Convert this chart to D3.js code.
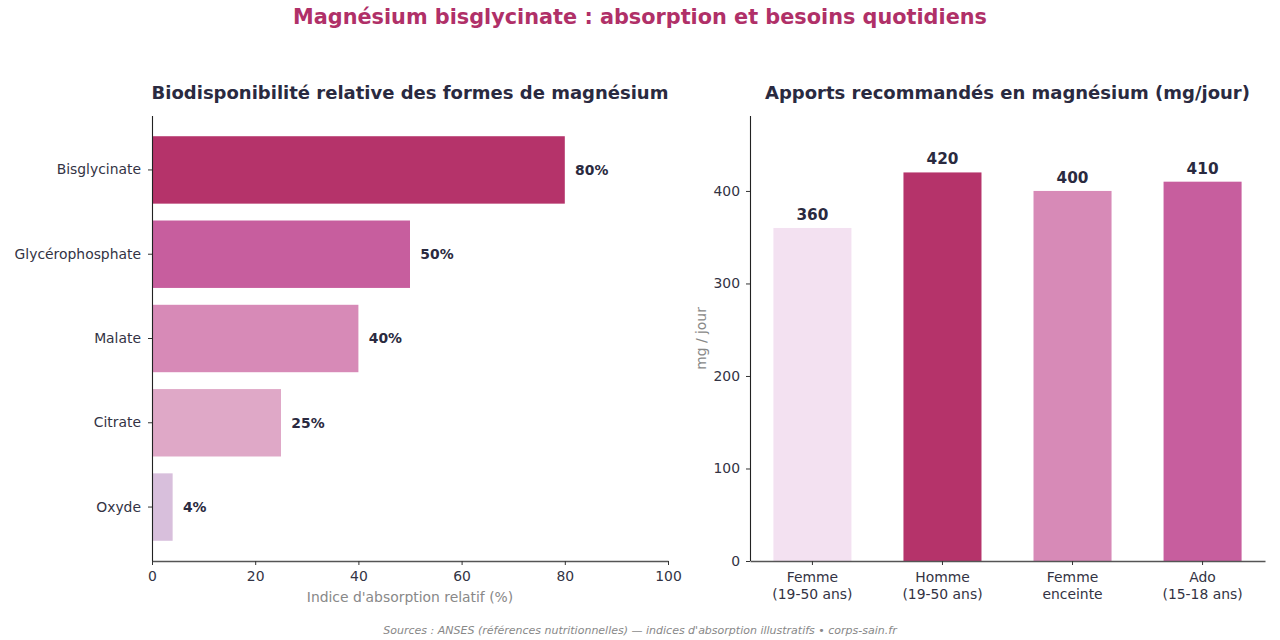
<!DOCTYPE html>
<html>
<head>
<meta charset="utf-8">
<script src="https://cdn.jsdelivr.net/npm/d3@7"></script>
<style>
  body { margin: 0; background: #fff; }
  svg, svg text { font-family: "DejaVu Sans", sans-serif; }
</style>
</head>
<body>
<div id="chart"></div>
<script>
var width  = 1280;
var height = 640;

// left panel data
var forms      = ["Bisglycinate", "Glycérophosphate", "Malate", "Citrate", "Oxyde"];
var absorption = [80, 50, 40, 25, 4];
var formColors = ["#b5336a", "#c75e9e", "#d78ab7", "#dfa8c7", "#d8bfdc"];
var absTicks   = [0, 20, 40, 60, 80, 100];

// right panel data
var groups      = ["Femme\n(19-50 ans)", "Homme\n(19-50 ans)", "Femme\nenceinte", "Ado\n(15-18 ans)"];
var apports     = [360, 420, 400, 410];
var groupColors = ["#f3e1f1", "#b5336a", "#d78ab7", "#c75e9e"];
var apportTicks = [0, 100, 200, 300, 400];

var dark = "#2a2a40";

var svg = d3.select("#chart").append("svg")
  .attr("width", width)
  .attr("height", height);

svg.append("text")
  .attr("x", 640).attr("y", 24)
  .attr("text-anchor", "middle")
  .style("font-size", "20.8px").style("font-weight", "bold")
  .style("fill", "#b03068")
  .text("Magnésium bisglycinate : absorption et besoins quotidiens");

function styleAxis(g, spineColor, spineWidth) {
  g.attr("font-family", null);
  g.select(".domain").attr("stroke", spineColor).attr("stroke-width", spineWidth);
  g.selectAll(".tick line").attr("stroke", "#333");
  g.selectAll(".tick text")
    .style("font-family", "'DejaVu Sans', sans-serif")
    .style("font-size", "13.9px").style("fill", "#333344");
}

// ---------- left panel: horizontal bars ----------
var L = {left: 152, right: 668, top: 116, bottom: 561};

var xAbs = d3.scaleLinear().domain([0, 100]).range([L.left, L.right]);
var yForm = d3.scaleBand().domain(forms).range([L.top, L.bottom])
  .paddingInner(0.2).paddingOuter(0.24);

svg.selectAll(".form-bar")
  .data(forms)
  .enter().append("rect")
  .attr("class", "form-bar")
  .attr("x", xAbs(0))
  .attr("y", function(d) { return yForm(d); })
  .attr("width", function(d, i) { return xAbs(absorption[i]) - xAbs(0); })
  .attr("height", yForm.bandwidth())
  .style("fill", function(d, i) { return formColors[i]; });

svg.selectAll(".form-val")
  .data(forms)
  .enter().append("text")
  .attr("class", "form-val")
  .attr("x", function(d, i) { return xAbs(absorption[i] + 2); })
  .attr("y", function(d) { return yForm(d) + yForm.bandwidth() / 2; })
  .attr("dy", "0.35em")
  .style("font-size", "13.9px").style("font-weight", "bold").style("fill", dark)
  .text(function(d, i) { return absorption[i] + "%"; });

var gxL = svg.append("g")
  .attr("transform", "translate(0," + L.bottom + ")")
  .call(d3.axisBottom(xAbs).tickValues(absTicks).tickSize(4).tickSizeOuter(0).tickPadding(6));
styleAxis(gxL, "#555", 1.6);

var gyL = svg.append("g")
  .attr("transform", "translate(" + L.left + ",0)")
  .call(d3.axisLeft(yForm).tickSize(4).tickSizeOuter(0).tickPadding(7));
gyL.select(".domain").attr("d", "M0.5," + L.top + "V" + L.bottom);
styleAxis(gyL, "#222", 1.1);

svg.append("text")
  .attr("x", (L.left + L.right) / 2).attr("y", 602)
  .attr("text-anchor", "middle")
  .style("font-size", "13.9px").style("fill", "#888")
  .text("Indice d'absorption relatif (%)");

svg.append("text")
  .attr("x", (L.left + L.right) / 2).attr("y", 99)
  .attr("text-anchor", "middle")
  .style("font-size", "18px").style("font-weight", "bold").style("fill", dark)
  .text("Biodisponibilité relative des formes de magnésium");

// ---------- right panel: vertical bars ----------
var R = {left: 750, right: 1265, top: 116, bottom: 561};

var xGrp = d3.scaleBand().domain(groups).range([R.left, R.right])
  .paddingInner(0.4).paddingOuter(0.18);
var yApp = d3.scaleLinear().domain([0, 481]).range([R.bottom, R.top]);

svg.selectAll(".grp-bar")
  .data(groups)
  .enter().append("rect")
  .attr("class", "grp-bar")
  .attr("x", function(d) { return xGrp(d); })
  .attr("y", function(d, i) { return yApp(apports[i]); })
  .attr("width", xGrp.bandwidth())
  .attr("height", function(d, i) { return yApp(0) - yApp(apports[i]); })
  .style("fill", function(d, i) { return groupColors[i]; });

svg.selectAll(".grp-val")
  .data(groups)
  .enter().append("text")
  .attr("class", "grp-val")
  .attr("x", function(d) { return xGrp(d) + xGrp.bandwidth() / 2; })
  .attr("y", function(d, i) { return yApp(apports[i]) - 8; })
  .attr("text-anchor", "middle")
  .style("font-size", "15.3px").style("font-weight", "bold").style("fill", dark)
  .text(function(d, i) { return apports[i]; });

var gxR = svg.append("g")
  .attr("transform", "translate(0," + R.bottom + ")")
  .call(d3.axisBottom(xGrp).tickSize(4).tickSizeOuter(0).tickPadding(7));
styleAxis(gxR, "#555", 1.6);
gxR.selectAll(".tick text").each(function(d) {
  var t = d3.select(this), lines = d.split("\n");
  t.text(null);
  lines.forEach(function(s, k) {
    t.append("tspan").attr("x", 0).attr("dy", k === 0 ? "0.71em" : "1.2em").text(s);
  });
});

var gyR = svg.append("g")
  .attr("transform", "translate(" + R.left + ",0)")
  .call(d3.axisLeft(yApp).tickValues(apportTicks).tickSize(4).tickSizeOuter(0).tickPadding(6));
gyR.select(".domain").attr("d", "M0.5," + R.top + "V" + R.bottom);
styleAxis(gyR, "#222", 1.1);

svg.append("text")
  .attr("transform", "translate(706," + (R.top + R.bottom) / 2 + ") rotate(-90)")
  .attr("text-anchor", "middle")
  .style("font-size", "13.9px").style("fill", "#888")
  .text("mg / jour");

svg.append("text")
  .attr("x", (R.left + R.right) / 2).attr("y", 99)
  .attr("text-anchor", "middle")
  .style("font-size", "18px").style("font-weight", "bold").style("fill", dark)
  .text("Apports recommandés en magnésium (mg/jour)");

// footer
svg.append("text")
  .attr("x", 640).attr("y", 634)
  .attr("text-anchor", "middle")
  .style("font-size", "11px").style("font-style", "italic").style("fill", "#888")
  .text("Sources : ANSES (références nutritionnelles) — indices d'absorption illustratifs • corps-sain.fr");
</script>
</body>
</html>
